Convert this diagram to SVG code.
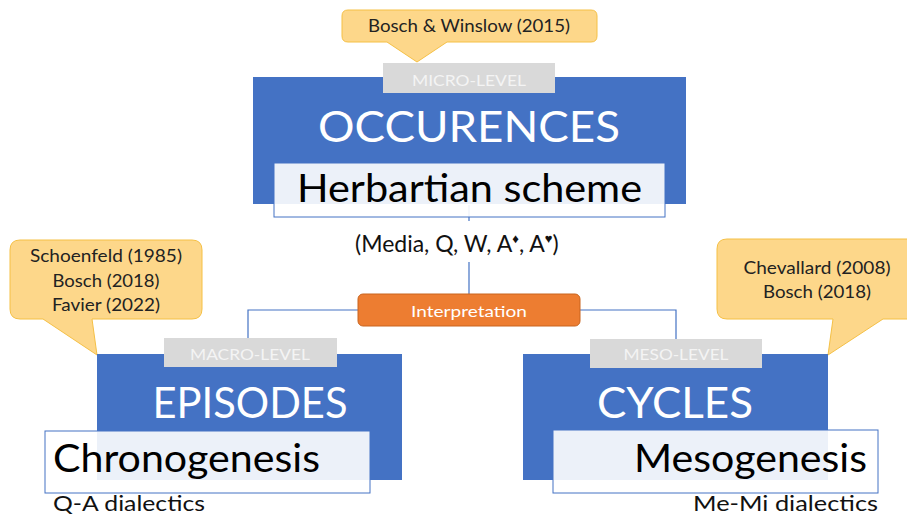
<svg xmlns="http://www.w3.org/2000/svg" width="907" height="517" viewBox="0 0 907 517">
  <style>
    text { font-family: Lato, "Open Sans", "Liberation Sans", sans-serif; }
    .callout { fill: #FDD78A; stroke: #F5C045; stroke-width: 1; }
    .callout-text { font-size: 17px; fill: #222; text-anchor: middle; }
    .level { fill: #D9D9D9; }
    .level-text { font-size: 15px; fill: #F4F4F4; text-anchor: middle; }
    .block { fill: #4472C4; }
    .block-title { font-size: 42px; fill: #FFFFFF; text-anchor: middle; }
    .inner { fill: #FFFFFF; fill-opacity: 0.9; stroke: #4472C4; stroke-width: 1; }
    .inner-text { font-size: 39px; fill: #000; }
    .note { font-size: 22px; fill: #111; }
    .link { fill: none; stroke: #4472C4; stroke-width: 1.2; }
  </style>

  <!-- connectors -->
  <g id="connectors">
    <line class="link" x1="469" y1="205" x2="469" y2="221"/>
    <line class="link" x1="469" y1="262" x2="469" y2="294"/>
    <polyline class="link" points="358,310 248,310 248,338"/>
    <polyline class="link" points="580,310 676,310 676,339"/>
  </g>

  <!-- micro level: occurrences -->
  <g id="occurences">
    <path class="callout" d="M348,10 H591 Q597,10 597,16 V36 Q597,42 591,42 H447 L417,62 L387,42 H348 Q342,42 342,36 V16 Q342,10 348,10 Z"/>
    <text class="callout-text" x="469" y="32" textLength="202" lengthAdjust="spacingAndGlyphs">Bosch &amp; Winslow (2015)</text>
    <rect class="block" x="253" y="77" width="433" height="127"/>
    <rect class="level" x="383" y="63" width="172" height="30"/>
    <text class="level-text" x="469" y="86" textLength="114" lengthAdjust="spacingAndGlyphs">MICRO-LEVEL</text>
    <text class="block-title" x="469" y="142" textLength="302" lengthAdjust="spacingAndGlyphs">OCCURENCES</text>
    <rect class="inner" x="274" y="163" width="391" height="54"/>
    <text class="inner-text" x="297" y="202" textLength="345" lengthAdjust="spacingAndGlyphs">Herbartian scheme</text>
  </g>

  <!-- tuple under the scheme -->
  <g id="tuple">
    <text x="355" y="252" font-size="23" fill="#111">(Media, Q, W, A<tspan font-size="13" dy="-9">♦</tspan><tspan dy="9">, A</tspan><tspan font-size="13" dy="-9">♥</tspan><tspan dy="9">)</tspan></text>
  </g>

  <!-- interpretation -->
  <g id="interpretation">
    <rect x="358" y="294" width="222" height="32" rx="5" fill="#ED7D31" stroke="#C9651F" stroke-width="1"/>
    <text x="469" y="317" font-size="16" fill="#FFFFFF" text-anchor="middle" textLength="116" lengthAdjust="spacingAndGlyphs">Interpretation</text>
  </g>

  <!-- macro level: episodes -->
  <g id="episodes">
    <path class="callout" d="M20,240 H192 Q202,240 202,250 V309 Q202,319 192,319 H92 L97,355 L43,319 H20 Q10,319 10,309 V250 Q10,240 20,240 Z"/>
    <text class="callout-text" x="106" y="262" textLength="152" lengthAdjust="spacingAndGlyphs">Schoenfeld (1985)</text>
    <text class="callout-text" x="106" y="287" textLength="107" lengthAdjust="spacingAndGlyphs">Bosch (2018)</text>
    <text class="callout-text" x="106" y="311" textLength="108" lengthAdjust="spacingAndGlyphs">Favier (2022)</text>
    <rect class="block" x="97" y="354" width="305" height="126"/>
    <rect class="level" x="164" y="338" width="173" height="29"/>
    <text class="level-text" x="250" y="360" textLength="120" lengthAdjust="spacingAndGlyphs">MACRO-LEVEL</text>
    <text class="block-title" x="250" y="418" textLength="195" lengthAdjust="spacingAndGlyphs">EPISODES</text>
    <rect class="inner" x="45" y="431" width="325" height="62"/>
    <text class="inner-text" x="53" y="472" textLength="267" lengthAdjust="spacingAndGlyphs">Chronogenesis</text>
    <text class="note" x="53" y="511" textLength="152" lengthAdjust="spacingAndGlyphs">Q-A dialectics</text>
  </g>

  <!-- meso level: cycles -->
  <g id="cycles">
    <path class="callout" d="M727,239 H912 V319 H883 L828,355 L833,319 H727 Q717,319 717,309 V249 Q717,239 727,239 Z"/>
    <text class="callout-text" x="817" y="274" textLength="147" lengthAdjust="spacingAndGlyphs">Chevallard (2008)</text>
    <text class="callout-text" x="817" y="298" textLength="108" lengthAdjust="spacingAndGlyphs">Bosch (2018)</text>
    <rect class="block" x="523" y="354" width="305" height="126"/>
    <rect class="level" x="590" y="339" width="172" height="29"/>
    <text class="level-text" x="676" y="360" textLength="105" lengthAdjust="spacingAndGlyphs">MESO-LEVEL</text>
    <text class="block-title" x="675" y="418" textLength="156" lengthAdjust="spacingAndGlyphs">CYCLES</text>
    <rect class="inner" x="553" y="430" width="325" height="63"/>
    <text class="inner-text" x="867" y="472" text-anchor="end" textLength="233" lengthAdjust="spacingAndGlyphs">Mesogenesis</text>
    <text class="note" x="878" y="511" text-anchor="end" textLength="185" lengthAdjust="spacingAndGlyphs">Me-Mi dialectics</text>
  </g>
</svg>
